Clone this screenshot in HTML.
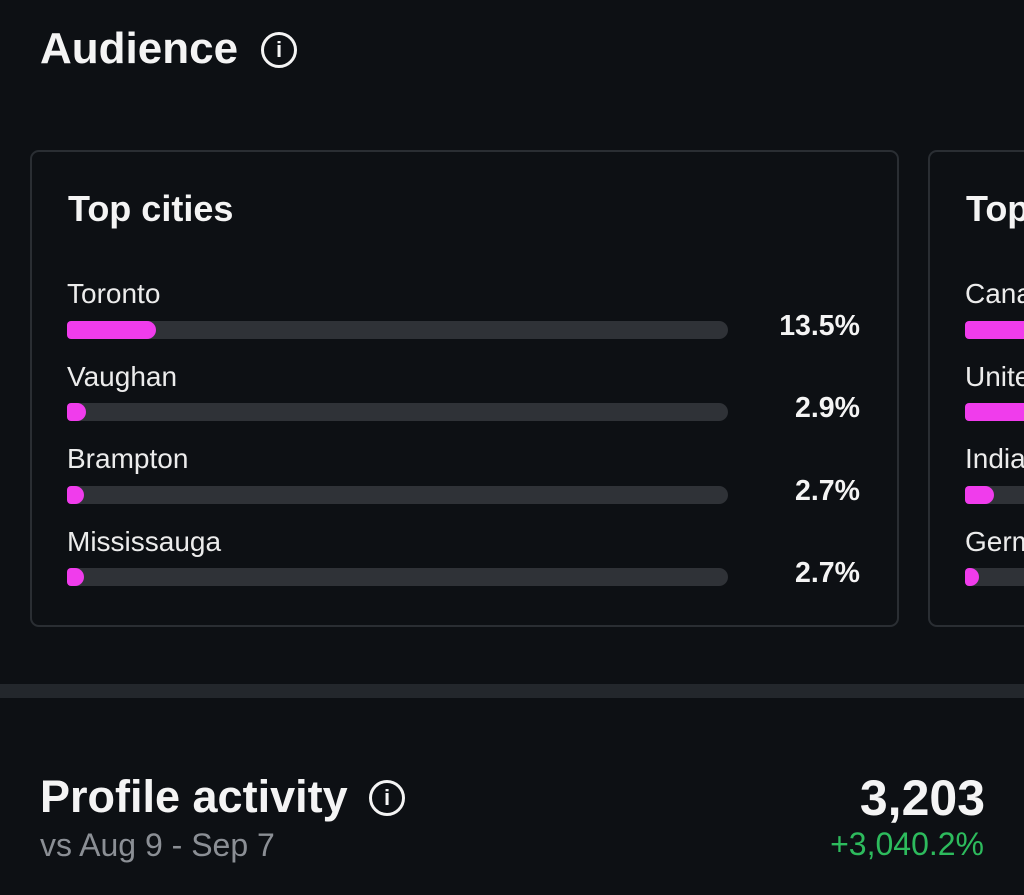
<!DOCTYPE html>
<html><head><style>
*{margin:0;padding:0;box-sizing:border-box}
html,body{width:1024px;height:895px;overflow:hidden}
body{background:#0d1014;position:relative;font-family:"Liberation Sans",sans-serif;color:#f4f4f4}
#w{position:absolute;left:0;top:0;width:1024px;height:895px;overflow:hidden}
.a{position:absolute;white-space:nowrap}
.card{position:absolute;border:2px solid #2a2e33;border-radius:9px;background:#0d1014}
.track{position:absolute;height:18px;background:#2f3237;border-radius:9px}
.pink{position:absolute;height:18px;background:#f03cec;border-radius:4px 9px 9px 4px}
.lbl{position:absolute;font-size:28px;color:#ececec;white-space:nowrap}
.pct{position:absolute;font-size:28.5px;font-weight:bold;right:164px;text-align:right}
.icon{position:absolute;width:36px;height:36px;border:3px solid #f4f4f4;border-radius:50%;text-align:center;font-weight:bold;font-size:22px;line-height:30px;font-family:"Liberation Sans",sans-serif}
</style></head><body><div id="w">
<div class="a" style="left:40px;top:24px;font-size:44px;font-weight:bold">Audience</div>
<div class="icon" style="left:261px;top:32px">i</div>

<div class="card" style="left:30px;top:150px;width:869px;height:477px"></div>
<div class="card" style="left:928px;top:150px;width:110px;height:477px;border-right:none;border-radius:9px 0 0 9px"></div>
<div class="a" style="left:68px;top:188px;font-size:36px;font-weight:bold">Top cities</div>
<div class="lbl" style="left:966px;top:188px;font-size:36px;font-weight:bold;color:#f4f4f4;width:58px;overflow:hidden">Top</div>

<div class="lbl" style="left:67px;top:278px">Toronto</div>
<div class="track" style="left:67px;top:321px;width:661px"></div>
<div class="pink" style="left:67px;top:321px;width:89px"></div>
<div class="pct" style="top:310px">13.5%</div>

<div class="lbl" style="left:67px;top:361px">Vaughan</div>
<div class="track" style="left:67px;top:403px;width:661px"></div>
<div class="pink" style="left:67px;top:403px;width:19px"></div>
<div class="pct" style="top:392px">2.9%</div>

<div class="lbl" style="left:67px;top:443px">Brampton</div>
<div class="track" style="left:67px;top:486px;width:661px"></div>
<div class="pink" style="left:67px;top:486px;width:17px"></div>
<div class="pct" style="top:475px">2.7%</div>

<div class="lbl" style="left:67px;top:526px">Mississauga</div>
<div class="track" style="left:67px;top:568px;width:661px"></div>
<div class="pink" style="left:67px;top:568px;width:17px"></div>
<div class="pct" style="top:557px">2.7%</div>

<div class="lbl" style="left:965px;top:278px;width:59px;overflow:hidden">Canada</div>
<div class="track" style="left:965px;top:321px;width:59px;border-radius:9px 0 0 9px"></div>
<div class="pink" style="left:965px;top:321px;width:59px;border-radius:4px 0 0 4px"></div>
<div class="lbl" style="left:965px;top:361px;width:59px;overflow:hidden">United</div>
<div class="track" style="left:965px;top:403px;width:59px;border-radius:9px 0 0 9px"></div>
<div class="pink" style="left:965px;top:403px;width:59px;border-radius:4px 0 0 4px"></div>
<div class="lbl" style="left:965px;top:443px;width:59px;overflow:hidden">India</div>
<div class="track" style="left:965px;top:486px;width:59px;border-radius:9px 0 0 9px"></div>
<div class="pink" style="left:965px;top:486px;width:29px"></div>
<div class="lbl" style="left:965px;top:526px;width:59px;overflow:hidden">Germany</div>
<div class="track" style="left:965px;top:568px;width:59px;border-radius:9px 0 0 9px"></div>
<div class="pink" style="left:965px;top:568px;width:14px"></div>

<div class="a" style="left:0;top:684px;width:1024px;height:14px;background:#23272c"></div>

<div class="a" style="left:40px;top:771px;font-size:45px;font-weight:bold">Profile activity</div>
<div class="icon" style="left:369px;top:780px">i</div>
<div class="a" style="left:40px;top:827px;font-size:32px;color:#8b8f95">vs Aug 9 - Sep 7</div>
<div class="a" style="right:39px;top:769px;font-size:50px;font-weight:bold">3,203</div>
<div class="a" style="right:40px;top:826px;font-size:32px;color:#2dbb5d">+3,040.2%</div>
</div></body></html>
